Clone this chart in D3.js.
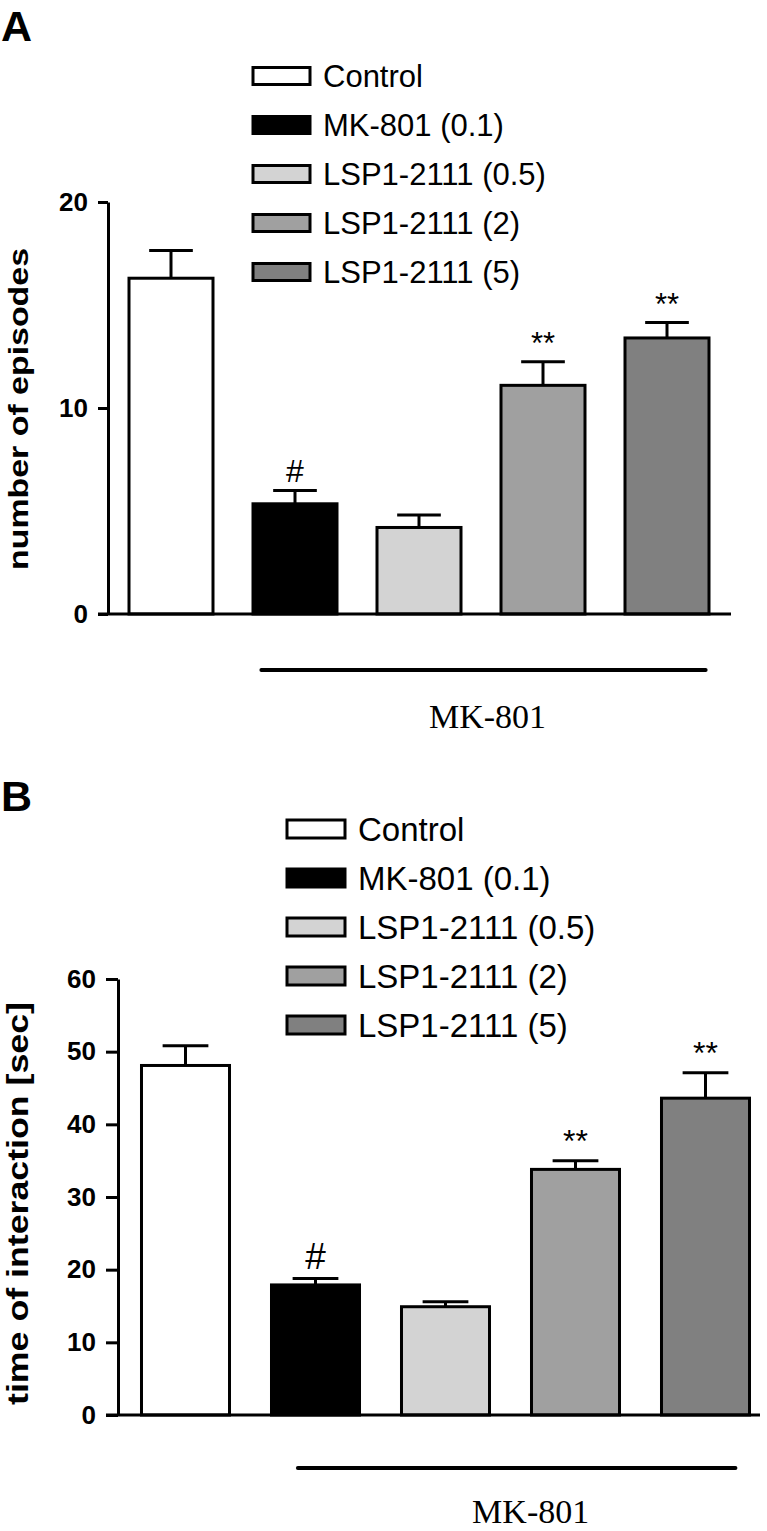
<!DOCTYPE html>
<html><head><meta charset="utf-8">
<script src="https://cdn.jsdelivr.net/npm/d3@7"></script>
<style>body{margin:0;background:#fff} svg{display:block}</style>
</head><body>
<svg id="chart" width="767" height="1531"></svg>
<script>
// ---- data ----
const categories = ["Control", "MK-801 (0.1)", "LSP1-2111 (0.5)", "LSP1-2111 (2)", "LSP1-2111 (5)"];
const colors = ["#ffffff", "#000000", "#d3d3d3", "#a0a0a0", "#808080"];
const episodesMean = [16.3, 5.35, 4.2, 11.1, 13.4];
const episodesSEM = [1.35, 0.65, 0.6, 1.15, 0.75];
const episodesTicks = [0, 10, 20];
const interactionMean = [48.1, 17.9, 14.9, 33.8, 43.6];
const interactionSEM = [2.7, 0.9, 0.7, 1.2, 3.5];
const interactionTicks = [0, 10, 20, 30, 40, 50, 60];
const significance = ["", "#", "", "**", "**"];
const panelLetters = ["A", "B"];
const yLabels = ["number of episodes", "time of interaction [sec]"];
const groupLabel = "MK-801";

const SANS = "'Liberation Sans', Arial, sans-serif";
const SERIF = "'Liberation Serif', 'Times New Roman', serif";
const svg = d3.select("#chart");

function drawPanel(cfg) {
  const g = svg.append("g");
  const x = d3.scaleBand().domain(categories).range(cfg.xRange)
    .paddingInner(cfg.padIn).paddingOuter(cfg.padIn / 2);
  const y = d3.scaleLinear().domain([0, d3.max(cfg.ticks)]).range(cfg.yRange);
  const bw = x.bandwidth();

  // panel letter
  g.append("text").attr("x", 1).attr("y", cfg.letterY)
    .attr("font-family", SANS).attr("font-weight", "bold").attr("font-size", 43)
    .text(cfg.letter);

  // legend
  const lg = g.append("g");
  categories.forEach((c, i) => {
    const ly = cfg.legendY0 + i * cfg.legendStep;
    lg.append("rect").attr("x", cfg.legendX).attr("y", ly - cfg.swH / 2)
      .attr("width", cfg.swW).attr("height", cfg.swH)
      .attr("fill", colors[i]).attr("stroke", "#000").attr("stroke-width", 3);
    lg.append("text").attr("x", cfg.legendX + cfg.swW + 13).attr("y", ly).attr("dy", "0.36em")
      .attr("font-family", SANS).attr("font-size", cfg.legendFont).text(c);
  });

  // bars
  g.selectAll("rect.bar").data(categories).join("rect").attr("class", "bar")
    .attr("x", d => x(d)).attr("y", (d, i) => y(cfg.mean[i]))
    .attr("width", bw).attr("height", (d, i) => y(0) - y(cfg.mean[i]))
    .attr("fill", (d, i) => colors[i]).attr("stroke", "#000").attr("stroke-width", 3);

  // error bars (upper only)
  categories.forEach((c, i) => {
    const cx = x(c) + bw / 2;
    const top = y(cfg.mean[i] + cfg.sem[i]);
    g.append("line").attr("x1", cx).attr("x2", cx).attr("y1", y(cfg.mean[i])).attr("y2", top)
      .attr("stroke", "#000").attr("stroke-width", 3);
    g.append("line").attr("x1", cx - bw * 0.26).attr("x2", cx + bw * 0.26).attr("y1", top).attr("y2", top)
      .attr("stroke", "#000").attr("stroke-width", 3);
    if (significance[i]) {
      g.append("text").attr("x", cx).attr("y", top - cfg.sigGap)
        .attr("text-anchor", "middle").attr("font-family", SANS)
        .attr("font-size", significance[i] === "#" ? cfg.hashFont : cfg.starFont)
        .text(significance[i]);
    }
  });

  // y axis
  const axis = d3.axisLeft(y).tickValues(cfg.ticks).tickSize(cfg.tickSize)
    .tickPadding(cfg.tickPad).tickSizeOuter(0).tickFormat(d3.format("d"));
  const ag = g.append("g").attr("transform", `translate(${cfg.axisX},0)`).call(axis)
    .attr("font-family", SANS).attr("font-size", cfg.tickFont).attr("font-weight", "bold");
  ag.select(".domain").attr("stroke-width", 3);
  ag.selectAll(".tick line").attr("stroke-width", 3);
  ag.selectAll(".tick text").attr("fill", "#000");

  // baseline
  g.append("line").attr("x1", cfg.axisX - cfg.tickSize).attr("x2", cfg.baseEnd)
    .attr("y1", y(0)).attr("y2", y(0)).attr("stroke", "#000").attr("stroke-width", 3);

  // y label
  const midY = (cfg.labelTop + cfg.labelBottom) / 2;
  g.append("text")
    .attr("transform", `translate(${cfg.labelX},${midY}) rotate(-90)`)
    .attr("text-anchor", "middle").attr("font-family", SANS).attr("font-weight", "bold")
    .attr("font-size", cfg.labelFont)
    .attr("textLength", cfg.labelBottom - cfg.labelTop).attr("lengthAdjust", "spacingAndGlyphs")
    .text(cfg.yLabel);

  // MK-801 group bracket
  const bx1 = x(categories[1]) + cfg.brStart * bw;
  const bx2 = x(categories[4]) + cfg.brEnd * bw;
  g.append("line").attr("x1", bx1).attr("x2", bx2).attr("y1", cfg.brY).attr("y2", cfg.brY)
    .attr("stroke", "#000").attr("stroke-width", 4).attr("stroke-linecap", "round");
  g.append("text").attr("x", (bx1 + bx2) / 2 + cfg.grpDx).attr("y", cfg.grpY)
    .attr("text-anchor", "middle").attr("font-family", SERIF).attr("font-size", cfg.grpFont)
    .text(groupLabel);
}

drawPanel({
  letter: panelLetters[0], letterY: 41, yLabel: yLabels[0],
  mean: episodesMean, sem: episodesSEM, ticks: episodesTicks,
  xRange: [109, 729], padIn: 0.3226, yRange: [614, 202],
  axisX: 108, tickSize: 10, tickPad: 10, tickFont: 26, baseEnd: 731,
  legendX: 253, legendY0: 76, legendStep: 49, swW: 57, swH: 17, legendFont: 31,
  sigGap: 8, hashFont: 32, starFont: 31,
  labelX: 28, labelTop: 248, labelBottom: 570, labelFont: 28,
  brStart: 0.1, brEnd: 0.96, brY: 670, grpY: 728, grpFont: 34, grpDx: 4
});

drawPanel({
  letter: panelLetters[1], letterY: 811, yLabel: yLabels[1],
  mean: interactionMean, sem: interactionSEM, ticks: interactionTicks,
  xRange: [120.5, 770.5], padIn: 0.323, yRange: [1415, 979],
  axisX: 118, tickSize: 12, tickPad: 10, tickFont: 26, baseEnd: 760,
  legendX: 287, legendY0: 829, legendStep: 49, swW: 58, swH: 18, legendFont: 33,
  sigGap: 9, hashFont: 37, starFont: 32,
  labelX: 28, labelTop: 1002, labelBottom: 1405, labelFont: 29,
  brStart: 0.3, brEnd: 0.84, brY: 1468, grpY: 1523, grpFont: 34, grpDx: 14
});
</script>
</body></html>
